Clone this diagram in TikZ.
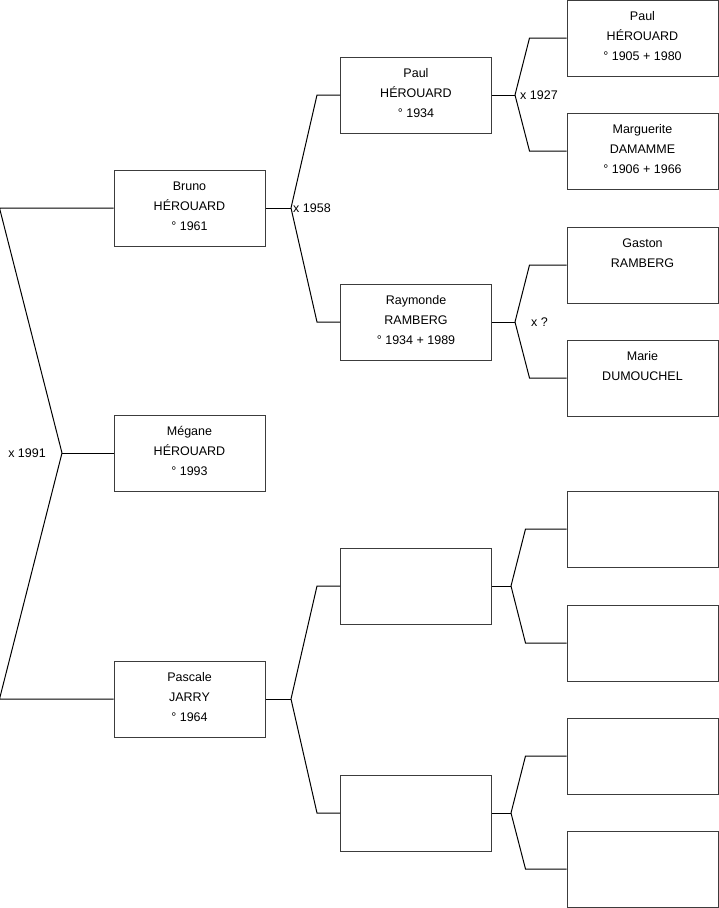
\documentclass[tikz,border=0pt]{standalone}
\usepackage{fontspec}
\setmainfont{Liberation Sans}
\usepackage{tikz}
\usetikzlibrary{positioning}
\definecolor{boxgray}{RGB}{60, 60, 60}

\begin{document}
\begin{tikzpicture}[
  x=1pt, y=-1pt,
  person/.style={rectangle, draw=boxgray, line width=1pt,
                 minimum width=151pt, minimum height=76pt,
                 inner sep=0pt, align=center,
                 text height=50pt, text depth=5pt,
                 font=\fontsize{12.5}{20}\selectfont},
  link/.style={line width=1pt, color=black},
  union/.style={font=\fontsize{12.5}{14}\selectfont, inner sep=0pt}
]
  \useasboundingbox (0,0) rectangle (719,908);

  % generation 1
  \node[person] (bruno)   at (189.5,208) {Bruno\\HÉROUARD\\° 1961};
  \node[person] (megane)  at (189.5,453) {Mégane\\HÉROUARD\\° 1993};
  \node[person] (pascale) at (189.5,699) {Pascale\\JARRY\\° 1964};

  % generation 2
  \node[person] (paul)     at (416,95)  {Paul\\HÉROUARD\\° 1934};
  \node[person] (raymonde) at (416,322) {Raymonde\\RAMBERG\\° 1934 + 1989};
  \node[person] (pmother)  at (416,586) {};
  \node[person] (pfather)  at (416,813) {};

  % generation 3
  \node[person] (paulsr)     at (642.5,38)  {Paul\\HÉROUARD\\° 1905 + 1980};
  \node[person] (marguerite) at (642.5,151) {Marguerite\\DAMAMME\\° 1906 + 1966};
  \node[person] (gaston)     at (642.5,265) {Gaston\\RAMBERG\\\mbox{}};
  \node[person] (marie)      at (642.5,378) {Marie\\DUMOUCHEL\\\mbox{}};
  \node[person] (empty1)     at (642.5,529) {};
  \node[person] (empty2)     at (642.5,643) {};
  \node[person] (empty3)     at (642.5,756) {};
  \node[person] (empty4)     at (642.5,869) {};

  % unions
  \coordinate (m1991) at (62,453);
  \coordinate (m1958) at (291,208);
  \coordinate (m1927) at (515,95);
  \coordinate (mraym) at (515,322);
  \coordinate (mpasc) at (291,699);
  \coordinate (mpm)   at (511,586);
  \coordinate (mpf)   at (511,813);

  \node[union, anchor=east] (l1991) at ([xshift=-16pt]m1991) {x 1991};
  \node[union, anchor=west] (l1958) at ([xshift=2pt]m1958) {x 1958};
  \node[union, anchor=west] (l1927) at ([xshift=5pt]m1927) {x 1927};
  \node[union, anchor=west] (lraym) at ([xshift=16pt]mraym) {x ?};

  \draw[link] (m1991) -- ([xshift=-114pt]bruno.west) -- (bruno.west);
  \draw[link] (m1991) -- ([xshift=-114pt]pascale.west) -- (pascale.west);
  \draw[link] (m1991) -- (megane.west);

  \draw[link] (bruno.east) -- (m1958);
  \draw[link] (m1958) -- ([xshift=-23pt]paul.west) -- (paul.west);
  \draw[link] (m1958) -- ([xshift=-23pt]raymonde.west) -- (raymonde.west);

  \draw[link] (pascale.east) -- (mpasc);
  \draw[link] (mpasc) -- ([xshift=-23pt]pmother.west) -- (pmother.west);
  \draw[link] (mpasc) -- ([xshift=-23pt]pfather.west) -- (pfather.west);

  \draw[link] (paul.east) -- (m1927);
  \draw[link] (m1927) -- ([xshift=-37pt]paulsr.west) -- (paulsr.west);
  \draw[link] (m1927) -- ([xshift=-37pt]marguerite.west) -- (marguerite.west);

  \draw[link] (raymonde.east) -- (mraym);
  \draw[link] (mraym) -- ([xshift=-37pt]gaston.west) -- (gaston.west);
  \draw[link] (mraym) -- ([xshift=-37pt]marie.west) -- (marie.west);

  \draw[link] (pmother.east) -- (mpm);
  \draw[link] (mpm) -- ([xshift=-41pt]empty1.west) -- (empty1.west);
  \draw[link] (mpm) -- ([xshift=-41pt]empty2.west) -- (empty2.west);

  \draw[link] (pfather.east) -- (mpf);
  \draw[link] (mpf) -- ([xshift=-41pt]empty3.west) -- (empty3.west);
  \draw[link] (mpf) -- ([xshift=-41pt]empty4.west) -- (empty4.west);
\end{tikzpicture}
\end{document}
